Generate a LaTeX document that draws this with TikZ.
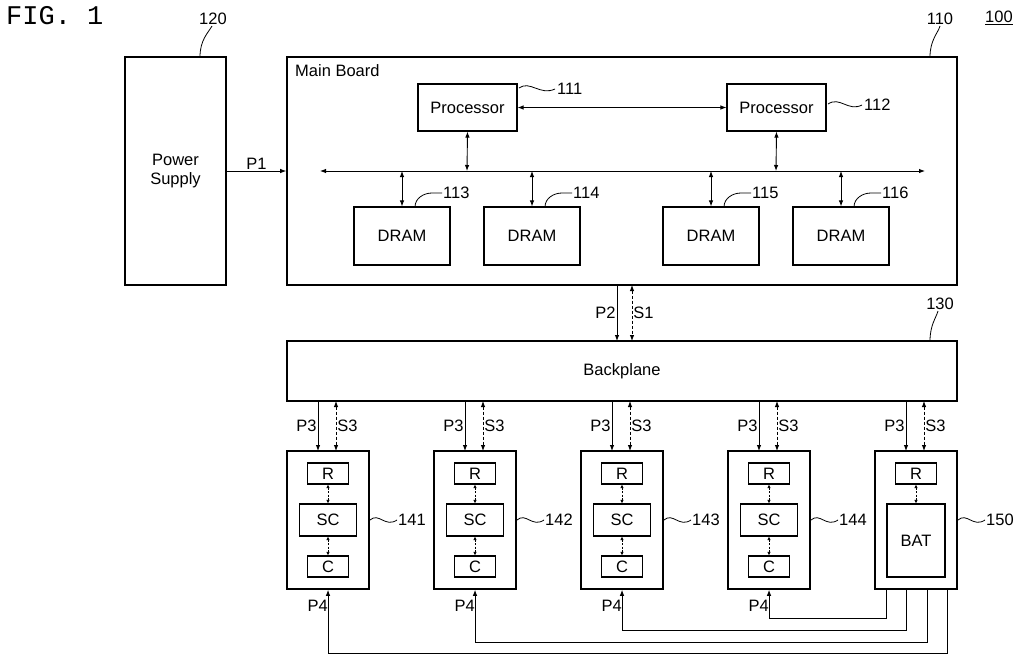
\documentclass[tikz,border=0pt]{standalone}
\usepackage{fontspec}
\setmainfont{Liberation Sans}
\newfontfamily\monof{Liberation Mono}
\usetikzlibrary{arrows.meta}
\begin{document}
\begin{tikzpicture}[x=1pt,y=-1pt,
  box/.style={draw,line width=1.6pt,inner sep=0pt},
  sbox/.style={draw,line width=1.1pt,inner sep=0pt},
  ln/.style={line width=0.9pt},
  arr/.style={ln,-{Latex[length=6pt,width=4.5pt]}},
  darr/.style={ln,{Latex[length=6pt,width=4.5pt]}-{Latex[length=6pt,width=4.5pt]}},
  sarr/.style={ln,{Latex[length=3.5pt,width=3.5pt]}-{Latex[length=3.5pt,width=3.5pt]},dashed,dash pattern=on 2pt off 1.5pt},
  dsh/.style={darr,dash pattern=on 3pt off 2pt},
  txt/.style={font=\fontsize{16.5}{19}\selectfont,inner sep=1pt},
  lead/.style={line width=0.8pt}]
\useasboundingbox (0,0) rectangle (1024,662);
\node[anchor=north west,font=\monof\fontsize{27}{29}\selectfont,inner sep=0pt] (fig) at (6,6) {FIG. 1};
\node[txt,anchor=west] (l100) at (984,18) {\underline{100}};
% power supply
\node[box,minimum width=101pt,minimum height=228pt] (ps) at (175.5,171) {};
\node[txt,align=center] (pst) at (175.5,171) {Power\\Supply};
% main board
\node[box,minimum width=670pt,minimum height=228pt] (mb) at (622,171) {};
\node[txt,anchor=north west] (mbt) at (294,63) {Main Board};
\node[sbox,minimum width=99pt,minimum height=47pt,txt] (p1) at (467.5,107.5) {Processor};
\node[sbox,minimum width=99pt,minimum height=47pt,txt] (p2) at (776.5,107.5) {Processor};
\coordinate (busL) at (320,171); \coordinate (busR) at (925,171);
\draw[darr] (busL) -- (busR);
\draw[darr] (p1.east) -- (p2.west);
\draw[darr] (p1.south) -- (467,171);
\draw[darr] (p2.south) -- (776,171);
\foreach \n/\x in {3/402,4/532,5/711,6/841}{
  \node[sbox,minimum width=96pt,minimum height=58pt,txt] (d\n) at (\x,236) {DRAM};
  \draw[darr] (d\n.north) -- (\x,171);
  \draw[lead] (\x+13,207) .. controls (\x+13,198) and (\x+22,193) .. (\x+30,193) -- (\x+40,193);
  \node[txt,anchor=west] at (\x+40,193) {11\n};
}
\draw[lead] (519,88) .. controls (530,80) and (540,96) .. (555,89);
\node[txt,anchor=west] (l111) at (556,89) {111};
\draw[lead] (828,104) .. controls (840,96) and (848,112) .. (862,105);
\node[txt,anchor=west] (l112) at (863,105) {112};
\draw[lead] (930,57) .. controls (930,40) and (938,33) .. (940,26);
\node[txt] (l110) at (940,19) {110};
\draw[lead] (200,57) .. controls (200,40) and (208,33) .. (212,26);
\node[txt] (l120) at (213,19) {120};
\draw[arr] (ps.east) -- node[txt,above] {P1} (mb.west);
% backplane
\node[box,minimum width=670pt,minimum height=60pt,txt] (bp) at (622,371) {Backplane};
\draw[arr] (617,285) -- node[txt,left] {P2} (617,341);
\draw[dsh] (632,285) -- node[txt,right] {S1} (632,341);
\draw[lead] (930,341) .. controls (930,325) and (936,318) .. (938,311);
\node[txt] (l130) at (940,304) {130};
% modules
\foreach \i/\x in {1/287,2/434,3/581,4/728,5/875}{
  \node[box,minimum width=82pt,minimum height=138pt] (m\i) at (\x+41,520) {};
  \draw[arr] (\x+31,401) -- node[txt,left] {P3} (\x+31,451);
  \draw[dsh] (\x+49,401) -- node[txt,right] {S3} (\x+49,451);
  \node[sbox,minimum width=41pt,minimum height=21pt,txt] (r\i) at (\x+41,473.5) {R};
  \draw[lead] (\x+83,520) .. controls (\x+92,512) and (\x+98,528) .. (\x+110,520);
}
\foreach \i/\x in {1/287,2/434,3/581,4/728}{
  \node[sbox,minimum width=57pt,minimum height=32pt,txt] (sc\i) at (\x+41,520) {SC};
  \node[sbox,minimum width=41pt,minimum height=21pt,txt] (c\i) at (\x+41,566.5) {C};
  \draw[sarr] (r\i) -- (sc\i);
  \draw[sarr] (sc\i) -- (c\i);
  \node[txt,anchor=east] at (\x+42,606) {P4};
  \node[txt,anchor=west] at (\x+110,520) {14\i};
}
\node[txt,anchor=west] at (985,520) {150};
\node[sbox,minimum width=58pt,minimum height=73pt,txt] (bat) at (916,540.5) {BAT};
\draw[sarr] (r5) -- (bat);
\draw[arr] (886,589) |- (769,618) -- (m4.south);
\draw[arr] (906,589) |- (622,630) -- (m3.south);
\draw[arr] (927,589) |- (475,642) -- (m2.south);
\draw[arr] (947,589) |- (328,653) -- (m1.south);
\end{tikzpicture}
\end{document}
